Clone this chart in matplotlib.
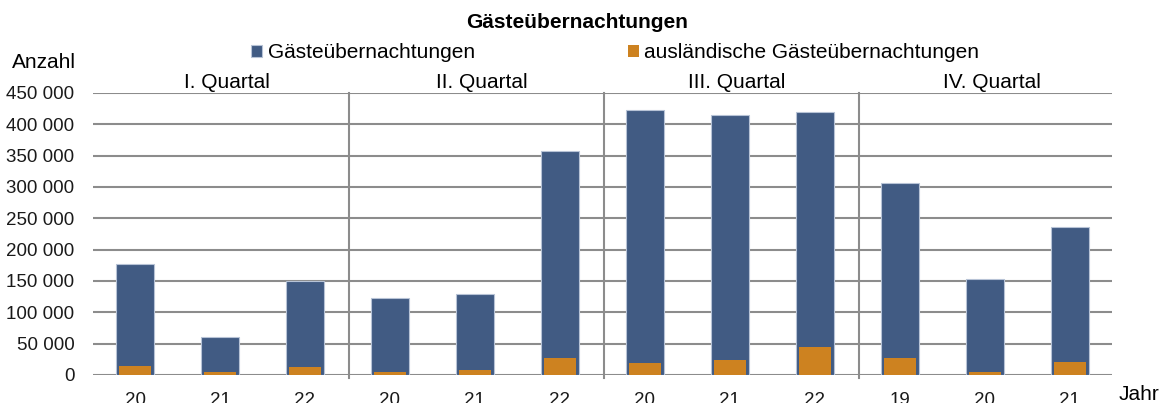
import matplotlib.pyplot as plt
import numpy as np

plt.rcParams['font.family'] = ['Liberation Sans', 'DejaVu Sans']

# data
quartale = ["I. Quartal", "II. Quartal", "III. Quartal", "IV. Quartal"]
jahre = ["20", "21", "22", "20", "21", "22", "20", "21", "22", "19", "20", "21"]
gesamt = [177000, 61000, 150000, 123000, 129000, 358000,
          423000, 415000, 420000, 306000, 153000, 236000]
ausland = [15000, 5000, 13000, 5000, 8000, 27000,
           19000, 24000, 45000, 26500, 5300, 21000]

blau = '#415b83'
orange = '#cd8220'
grau = '#8c8c8c'

fig = plt.figure(figsize=(11.64, 4.03), dpi=100)
ax = fig.add_axes([0.0795, 0.0695, 0.876, 0.6998])

x = np.arange(len(jahre))
ax.bar(x, gesamt, width=0.45, color=blau, edgecolor='#b7c3d6', linewidth=0.8, zorder=3,
       label='Gästeübernachtungen')
ax.bar(x, ausland, width=0.38, color=orange, zorder=4,
       label='ausländische Gästeübernachtungen')

ax.set_xlim(-0.5, len(jahre) - 0.5)
ax.set_ylim(0, 450000)
ax.set_yticks(range(0, 450001, 50000))
ax.set_yticklabels([f"{v:,}".replace(",", " ") for v in range(0, 450001, 50000)])
ax.set_xticks(x)
ax.set_xticklabels(jahre)
ax.tick_params(axis='both', length=0, labelsize=13.5, colors='#1a1a1a')
ax.tick_params(axis='x', pad=12.5)
ax.tick_params(axis='y', pad=13)
ax.grid(axis='y', color=grau, linewidth=1.5, zorder=0)
ax.set_axisbelow(True)
for s in ax.spines.values():
    s.set_visible(False)

# quarter separators and labels
for i in range(1, 4):
    ax.axvline(3 * i - 0.48, ymin=-0.01, ymax=1, color=grau, linewidth=1.5, zorder=1, clip_on=False)
for i, q in enumerate(quartale):
    ax.text(3 * i + 1.08, 458000, q, ha='center', va='baseline', fontsize=15)

fig.text(0.0105, 0.831, 'Anzahl', fontsize=15, va='baseline', ha='left')
fig.text(0.961, 0.022, 'Jahr', fontsize=15, va='center', ha='left')
fig.text(0.496, 0.945, 'Gästeübernachtungen', fontsize=15, fontweight='bold',
         ha='center', va='center')

fig.legend(loc='center', bbox_to_anchor=(0.5285, 0.869), ncol=2, frameon=False,
           fontsize=15, handlelength=0.55, handleheight=0.55, handletextpad=0.25,
           columnspacing=7.35, borderaxespad=0, borderpad=0)

fig.savefig('out.png', dpi=100)
